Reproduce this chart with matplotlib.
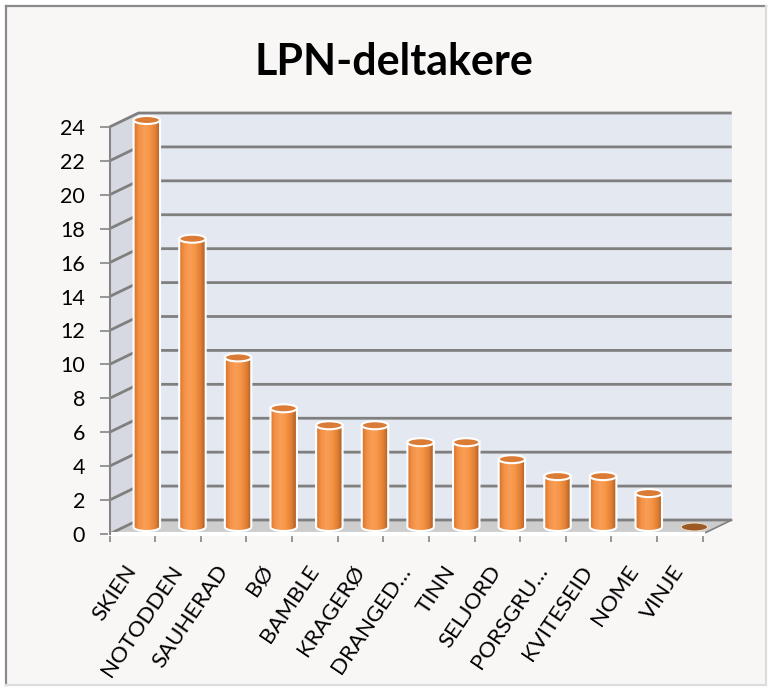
import numpy as np
import matplotlib
matplotlib.use('Agg')
import matplotlib.pyplot as plt
from matplotlib.patches import Polygon, Ellipse, PathPatch, Rectangle
from matplotlib.path import Path
from matplotlib.lines import Line2D
from matplotlib.colors import LinearSegmentedColormap

plt.rcParams['font.family'] = ['Lato', 'DejaVu Sans']

# data
kommuner = ['SKIEN', 'NOTODDEN', 'SAUHERAD', 'BØ', 'BAMBLE', 'KRAGERØ', 'DRANGED…',
            'TINN', 'SELJORD', 'PORSGRU…', 'KVITESEID', 'NOME', 'VINJE']
deltakere = [24, 17, 10, 7, 6, 6, 5, 5, 4, 3, 3, 2, 0]
yticks = list(range(0, 25, 2))

W, H = 773, 691
fig = plt.figure(figsize=(W / 100, H / 100), dpi=100)
fig.patch.set_facecolor('white')

# outer chart frame
fig.add_artist(Rectangle((6 / W, 6 / H), 760 / W, 679 / H, transform=fig.transFigure,
                         fc='#f9f6f6', ec='none', zorder=-5))
fig.add_artist(Line2D([6 / W, 6 / W], [6 / H, 685 / H], color='#8a8a8a', lw=1.6))
fig.add_artist(Line2D([6 / W, 766 / W], [685 / H, 685 / H], color='#8a8a8a', lw=1.6))
fig.add_artist(Line2D([766 / W, 766 / W], [6 / H, 685 / H], color='#dcdcdc', lw=1.6))
fig.add_artist(Line2D([6 / W, 766 / W], [6 / H, 6 / H], color='#dcdcdc', lw=1.6))

fig.text(394 / W, 1 - 75 / H, 'LPN-deltakere', ha='center', va='baseline',
         fontsize=31, fontweight='bold', color='black')

ax_l, ax_r, ax_top, ax_bot = 109.5, 702.7, 127, 534
ax = fig.add_axes([ax_l / W, (H - ax_bot) / H, (ax_r - ax_l) / W, (ax_bot - ax_top) / H])
ax.patch.set_visible(False)

n = len(kommuner)
x0, x1 = -0.5, n - 0.5
ymax = 24
px_x = (ax_r - ax_l) / n
px_y = (ax_bot - ax_top) / ymax
DX = 29 / px_x
DY = 14 / px_y

grid_c = '#7f7f7f'
# walls and floor
ax.add_patch(Polygon([(x0 + DX, DY), (x1 + DX, DY), (x1 + DX, ymax + DY), (x0 + DX, ymax + DY)],
                     fc='#e4e8f0', ec='none', zorder=0, clip_on=False))
ax.add_patch(Polygon([(x0, 0), (x0, ymax), (x0 + DX, ymax + DY), (x0 + DX, DY)],
                     fc='#d6d9e1', ec='none', zorder=0, clip_on=False))
ax.add_patch(Polygon([(x0, 0), (x1, 0), (x1 + DX, DY), (x0 + DX, DY)],
                     fc='#cdcdcd', ec='none', zorder=1, clip_on=False))
for v in yticks:
    ax.plot([x0, x0 + DX, x1 + DX], [v, v + DY, v + DY], color=grid_c, lw=2,
            zorder=1.5, clip_on=False, solid_capstyle='butt')
ax.plot([x1, x1 + DX], [0, DY], color=grid_c, lw=1.2, zorder=1.5, clip_on=False)
ax.plot([x0, x1], [0, 0], color='white', lw=3, zorder=1.6, clip_on=False)

# cylinders
cyl = LinearSegmentedColormap.from_list('cyl', ['#d27430', '#f59245', '#f99e58',
                                                '#f69444', '#e07f35', '#a65a1f'])
grad = np.linspace(0, 1, 256).reshape(1, -1)
w = 0.58
eh = 8 / px_y
base = DY / 2
for i, v in enumerate(deltakere):
    bx = i + DX / 2
    top = v + base
    if v > 0:
        t = np.linspace(np.pi, 2 * np.pi, 40)
        verts = [(bx - w / 2, top), (bx - w / 2, base)]
        verts += list(zip(bx + w / 2 * np.cos(t), base + eh / 2 * np.sin(t)))
        verts += [(bx + w / 2, top), (bx - w / 2, top)]
        codes = [Path.MOVETO] + [Path.LINETO] * (len(verts) - 2) + [Path.CLOSEPOLY]
        body = PathPatch(Path(verts, codes), fc='none', ec='white', lw=1.5,
                         zorder=3.1, clip_on=False)
        ax.add_patch(body)
        im = ax.imshow(grad, extent=[bx - w / 2, bx + w / 2, base - eh / 2, top],
                       aspect='auto', cmap=cyl, zorder=3, interpolation='bilinear')
        im.set_clip_path(body)
        im.set_clip_box(fig.bbox)
        ax.add_patch(Ellipse((bx, top), w, eh, fc='#da7b36', ec='white', lw=1.5,
                             zorder=3.2, clip_on=False))
    else:
        ax.add_patch(Ellipse((bx, top), w, eh, fc='#9c5a24', ec='#e8d8c8', lw=0.8,
                             zorder=3.2, clip_on=False))

ax.set_xlim(x0, x1)
ax.set_ylim(0, ymax)

for s in ['top', 'right', 'bottom']:
    ax.spines[s].set_visible(False)
ax.spines['left'].set_color('#868686')
ax.spines['left'].set_linewidth(1.5)

ax.set_yticks(yticks)
ax.tick_params(axis='y', length=7.5, width=1.2, color='#868686', pad=10, labelsize=15.5)

ax.set_xticks(np.arange(n))
ax.set_xticklabels(kommuner, rotation=56, ha='right', va='center', rotation_mode='anchor',
                   fontsize=16)
ax.set_xticks(np.arange(x0, x1 + 0.5, 1), minor=True)
ax.tick_params(axis='x', which='major', length=0, pad=24)
ax.tick_params(axis='x', which='minor', length=6, width=1.2, color='#868686')

fig.savefig('out.png', dpi=100)
